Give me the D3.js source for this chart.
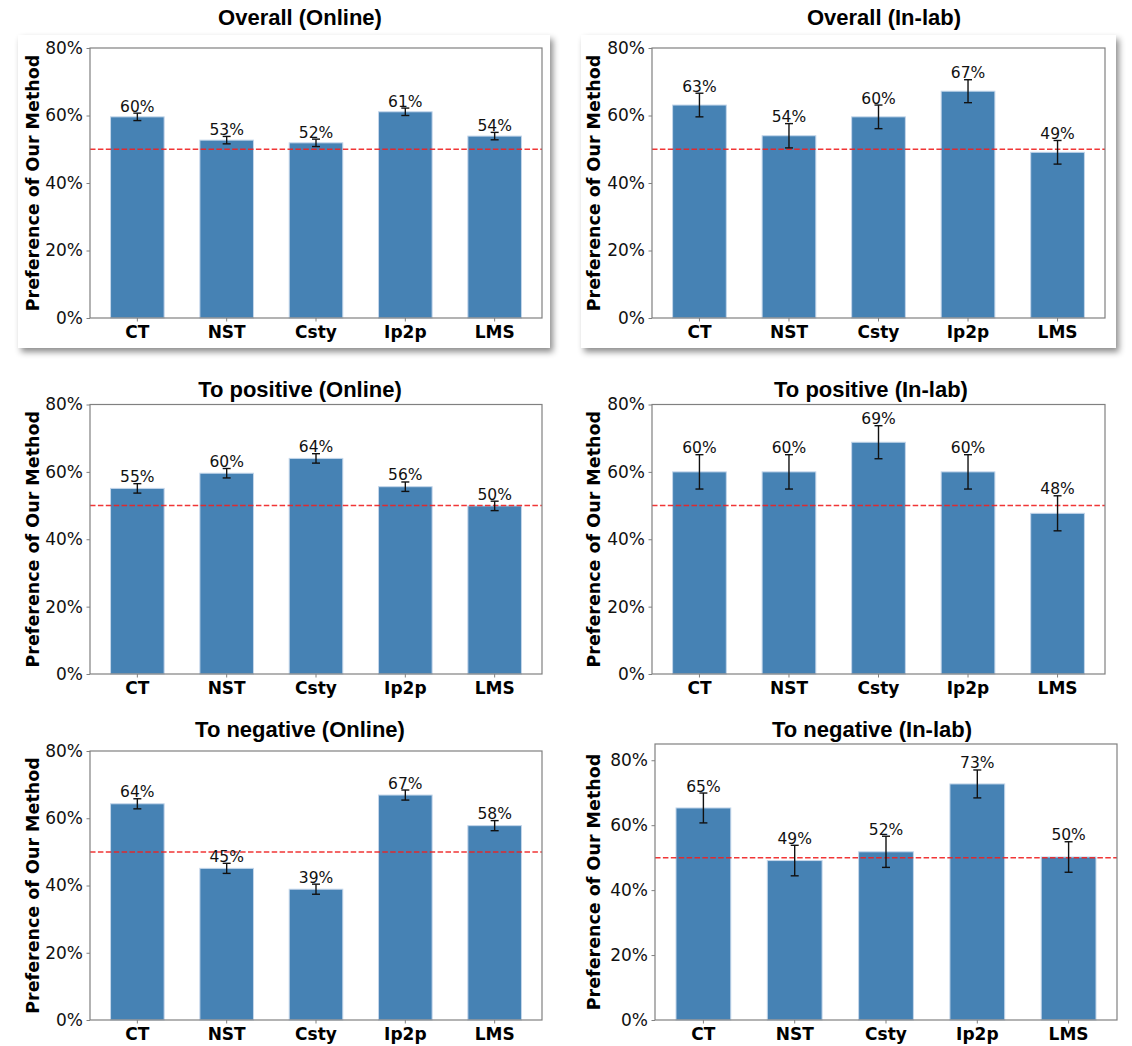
<!DOCTYPE html>
<html>
<head>
<meta charset="utf-8">
<script src="https://cdn.jsdelivr.net/npm/d3@7"></script>
<style>
  body { margin: 0; background: #fff; }
  svg { display: block; font-family: "DejaVu Sans", sans-serif; }
</style>
</head>
<body>
<svg id="fig" width="1132" height="1046"></svg>
<script>
// methods compared in every panel
let methods = ["CT", "NST", "Csty", "Ip2p", "LMS"];

// preference values (fraction) and error bar half-lengths
let overallOnline      = [0.596, 0.527, 0.519, 0.611, 0.539];
let overallOnlineErr   = [0.011, 0.011, 0.011, 0.011, 0.011];
let overallInlab       = [0.631, 0.540, 0.596, 0.672, 0.491];
let overallInlabErr    = [0.035, 0.036, 0.035, 0.034, 0.035];
let positiveOnline     = [0.551, 0.596, 0.640, 0.556, 0.499];
let positiveOnlineErr  = [0.014, 0.014, 0.014, 0.014, 0.014];
let positiveInlab      = [0.600, 0.600, 0.688, 0.600, 0.477];
let positiveInlabErr   = [0.051, 0.051, 0.049, 0.051, 0.052];
let negativeOnline     = [0.643, 0.451, 0.389, 0.669, 0.578];
let negativeOnlineErr  = [0.015, 0.015, 0.015, 0.015, 0.015];
let negativeInlab      = [0.653, 0.491, 0.518, 0.727, 0.502];
let negativeInlabErr   = [0.046, 0.047, 0.048, 0.043, 0.047];

let yTicks = [0, 0.2, 0.4, 0.6, 0.8];
let chance = 0.5;

let pct = d3.format(".0%");
let svg = d3.select("#fig");

// soft drop shadow for the two framed panels on top
let defs = svg.append("defs");
let f = defs.append("filter").attr("id", "shadow")
  .attr("x", "-5%").attr("y", "-5%").attr("width", "112%").attr("height", "115%");
f.append("feDropShadow").attr("dx", 3).attr("dy", 4).attr("stdDeviation", 3)
  .attr("flood-color", "#000").attr("flood-opacity", 0.45);

svg.append("rect").attr("x", 18).attr("y", 35).attr("width", 532).attr("height", 313)
  .attr("fill", "#fff").attr("filter", "url(#shadow)");
svg.append("rect").attr("x", 581).attr("y", 35).attr("width", 535).attr("height", 313)
  .attr("fill", "#fff").attr("filter", "url(#shadow)");

function panel(opt) {
  let x = d3.scaleBand()
    .domain(methods)
    .range([opt.x0, opt.x1])
    .paddingInner(0.4)
    .paddingOuter(0.23);

  let y = d3.scaleLinear()
    .domain([0, opt.ymax])
    .range([opt.y1, opt.y0]);

  let g = svg.append("g");

  // title
  g.append("text")
    .attr("x", opt.tx).attr("y", opt.ty)
    .attr("text-anchor", "middle")
    .attr("font-family", "'Liberation Sans', Arial, sans-serif")
    .attr("font-size", 22).attr("font-weight", "bold")
    .attr("fill", "#000")
    .text(opt.title);

  // y label
  g.append("text")
    .attr("transform", "translate(" + opt.lx + "," + ((opt.y0 + opt.y1) / 2) + ") rotate(-90)")
    .attr("text-anchor", "middle")
    .attr("dy", "0.35em")
    .attr("font-size", 17.5).attr("font-weight", "bold")
    .attr("fill", "#000")
    .text("Preference of Our Method");

  // bars
  g.selectAll("rect.bar")
    .data(opt.values)
    .enter()
    .append("rect")
    .attr("class", "bar")
    .attr("x", (d, i) => x(methods[i]))
    .attr("width", x.bandwidth())
    .attr("y", d => y(d))
    .attr("height", d => y(0) - y(d))
    .attr("fill", "#4682b4")
    .attr("stroke", "#c4d6ea")
    .attr("stroke-width", 1);

  // chance line
  g.append("line")
    .attr("x1", opt.x0).attr("x2", opt.x1)
    .attr("y1", y(chance)).attr("y2", y(chance))
    .attr("stroke", "#f02020").attr("stroke-opacity", 0.9)
    .attr("stroke-width", 1.5)
    .attr("stroke-dasharray", "5.5,2.4");

  // error bars
  let cx = i => x(methods[i]) + x.bandwidth() / 2;
  let eb = g.selectAll("g.err")
    .data(opt.values)
    .enter()
    .append("g")
    .attr("stroke", "#111")
    .attr("stroke-width", 1.4);
  eb.append("line")
    .attr("x1", (d, i) => cx(i)).attr("x2", (d, i) => cx(i))
    .attr("y1", (d, i) => y(d - opt.errs[i]))
    .attr("y2", (d, i) => y(d + opt.errs[i]));
  eb.append("line")
    .attr("x1", (d, i) => cx(i) - 4).attr("x2", (d, i) => cx(i) + 4)
    .attr("y1", (d, i) => y(d - opt.errs[i]))
    .attr("y2", (d, i) => y(d - opt.errs[i]));
  eb.append("line")
    .attr("x1", (d, i) => cx(i) - 4).attr("x2", (d, i) => cx(i) + 4)
    .attr("y1", (d, i) => y(d + opt.errs[i]))
    .attr("y2", (d, i) => y(d + opt.errs[i]));

  // value labels
  g.selectAll("text.val")
    .data(opt.values)
    .enter()
    .append("text")
    .attr("class", "val")
    .attr("x", (d, i) => cx(i))
    .attr("y", (d, i) => y(d + opt.errs[i]) - 1.5)
    .attr("text-anchor", "middle")
    .attr("font-size", 15.5)
    .attr("fill", "#111")
    .text(d => pct(d));

  // axes
  let ya = g.append("g")
    .attr("transform", "translate(" + opt.x0 + ",0)")
    .call(d3.axisLeft(y).tickValues(yTicks).tickFormat(pct).tickSize(3.5).tickPadding(3.5));
  let xa = g.append("g")
    .attr("transform", "translate(0," + opt.y1 + ")")
    .call(d3.axisBottom(x).tickSize(3.5).tickPadding(4));

  [ya, xa].forEach(a => {
    a.select(".domain").remove();
    a.selectAll(".tick line").attr("stroke", "#808080");
    a.selectAll("text").attr("font-family", "DejaVu Sans").attr("font-size", 17).attr("fill", "#111");
  });
  xa.selectAll("text").attr("font-weight", "bold").attr("fill", "#000");

  // frame
  g.append("rect")
    .attr("x", opt.x0).attr("y", opt.y0)
    .attr("width", opt.x1 - opt.x0).attr("height", opt.y1 - opt.y0)
    .attr("fill", "none")
    .attr("stroke", "#808080")
    .attr("stroke-width", 1.2);
}

panel({ title: "Overall (Online)", values: overallOnline, errs: overallOnlineErr,
        x0: 90, x1: 542, y0: 48, y1: 318, ymax: 0.8, tx: 300, ty: 25, lx: 33 });
panel({ title: "Overall (In-lab)", values: overallInlab, errs: overallInlabErr,
        x0: 652, x1: 1105, y0: 48, y1: 318, ymax: 0.8, tx: 884, ty: 25, lx: 594 });
panel({ title: "To positive (Online)", values: positiveOnline, errs: positiveOnlineErr,
        x0: 90, x1: 542, y0: 404.5, y1: 674, ymax: 0.8, tx: 300, ty: 397, lx: 33 });
panel({ title: "To positive (In-lab)", values: positiveInlab, errs: positiveInlabErr,
        x0: 652, x1: 1105, y0: 404.5, y1: 674, ymax: 0.8, tx: 871, ty: 397, lx: 594 });
panel({ title: "To negative (Online)", values: negativeOnline, errs: negativeOnlineErr,
        x0: 90, x1: 542, y0: 751, y1: 1020, ymax: 0.8, tx: 300, ty: 737, lx: 33 });
panel({ title: "To negative (In-lab)", values: negativeInlab, errs: negativeInlabErr,
        x0: 655, x1: 1117, y0: 744, y1: 1020, ymax: 0.85, tx: 872, ty: 737, lx: 594 });
</script>
</body>
</html>
